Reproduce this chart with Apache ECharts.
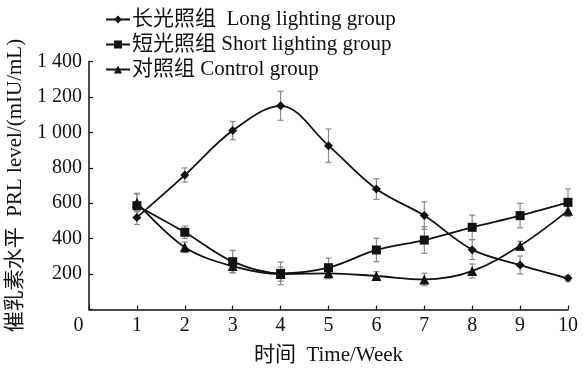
<!DOCTYPE html>
<html><head><meta charset="utf-8">
<script src="https://cdn.jsdelivr.net/npm/echarts@6/dist/echarts.min.js"></script>
<style>html,body{margin:0;padding:0;background:#fff}#c{width:586px;height:379px}</style>
</head><body><div id="c"></div>
<script>
var weeks = [1,2,3,4,5,6,7,8,9,10];
var xTicks = [0,1,2,3,4,5,6,7,8,9,10];
var yTicks = [0,200,400,600,800,1000,1200,1400];
var seriesNames = ['长光照组  Long lighting group','短光照组 Short lighting group','对照组 Control group'];
var longVals = [520,759,1010,1150,925,680,530,338,251,176];
var longErr  = [40,40,52,82,94,58,78,56,51,15];
var shortVals = [586,436,270,204,236,336,392,464,530,605];
var shortErr  = [70,35,64,64,54,66,75,69,69,75];
var ctrlVals = [603,351,245,200,204,189,170,217,360,558];
var ctrlErr  = [50,30,35,40,30,25,35,40,25,33];

var FONT = '"Liberation Serif","Noto Sans CJK SC",serif';
function pairs(v){return weeks.map(function(w,i){return [w,v[i]];});}
function errData(v,e){return weeks.map(function(w,i){return [w,v[i]-e[i],v[i]+e[i]];});}
function errSeries(v,e){
  return {type:'custom',silent:true,z:1,data:errData(v,e),
    renderItem:function(params,api){
      var x=api.value(0);
      var lo=api.coord([x,api.value(1)]);
      var hi=api.coord([x,api.value(2)]);
      var cw=3;
      var st={stroke:'#8a8a8a',lineWidth:1.2};
      return {type:'group',children:[
        {type:'line',shape:{x1:lo[0],y1:lo[1],x2:hi[0],y2:hi[1]},style:st},
        {type:'line',shape:{x1:lo[0]-cw,y1:lo[1],x2:lo[0]+cw,y2:lo[1]},style:st},
        {type:'line',shape:{x1:hi[0]-cw,y1:hi[1],x2:hi[0]+cw,y2:hi[1]},style:st}
      ]};
    }};
}
function lineSeries(name,v,sym,size){
  return {name:name,type:'line',smooth:0.35,z:3,data:pairs(v),symbol:sym,symbolSize:size,
    lineStyle:{color:'#111',width:1.8},itemStyle:{color:'#111'}};
}
var chart = echarts.init(document.getElementById('c'),null,{renderer:'canvas'});
chart.setOption({
  animation:false,
  backgroundColor:'#fff',
  textStyle:{fontFamily:FONT,color:'#111'},
  grid:{left:89,right:18,top:61.5,bottom:69.5,containLabel:false,outerBoundsMode:'none'},
  legend:{orient:'vertical',left:100,top:4,itemGap:4,itemWidth:24,itemHeight:10,
    data:seriesNames,
    textStyle:{fontFamily:FONT,fontSize:21,color:'#111',padding:[0,0,0,-3]}},
  xAxis:{type:'value',min:0,max:10,interval:1,
    name:'时间  Time/Week',nameLocation:'middle',nameGap:35,
    nameTextStyle:{fontFamily:FONT,fontSize:21,color:'#111'},
    axisLine:{lineStyle:{color:'#111',width:1.5}},
    axisTick:{inside:true,length:4,lineStyle:{color:'#111',width:1.2}},
    splitLine:{show:false},
    axisLabel:{margin:6,fontFamily:FONT,fontSize:20,color:'#111',
      formatter:function(v){ if(xTicks.indexOf(v)<0) return ''; return v===0?'{z|0}':String(v);},
      rich:{z:{fontFamily:FONT,fontSize:20,color:'#111',padding:[0,21,0,0]}}}},
  yAxis:{type:'value',min:0,max:1400,interval:200,
    name:'催乳素水平  PRL level/(mIU/mL)',nameLocation:'middle',nameGap:63,nameRotate:90,
    nameTextStyle:{fontFamily:FONT,fontSize:21,color:'#111'},
    axisLine:{show:true,lineStyle:{color:'#111',width:1.5}},
    axisTick:{show:true,inside:true,length:4,lineStyle:{color:'#111',width:1.2}},
    splitLine:{show:false},
    axisLabel:{margin:7,fontFamily:FONT,fontSize:20,color:'#111',
      formatter:function(v){ if(v===0||yTicks.indexOf(v)<0) return ''; return v>=1000?(Math.floor(v/1000)+' '+String(v%1000).padStart(3,'0')):String(v);}}},
  series:[
    errSeries(longVals,longErr),
    errSeries(shortVals,shortErr),
    errSeries(ctrlVals,ctrlErr),
    lineSeries(seriesNames[0],longVals,'diamond',9),
    lineSeries(seriesNames[1],shortVals,'rect',9),
    lineSeries(seriesNames[2],ctrlVals,'triangle',10)
  ]
});
</script></body></html>
